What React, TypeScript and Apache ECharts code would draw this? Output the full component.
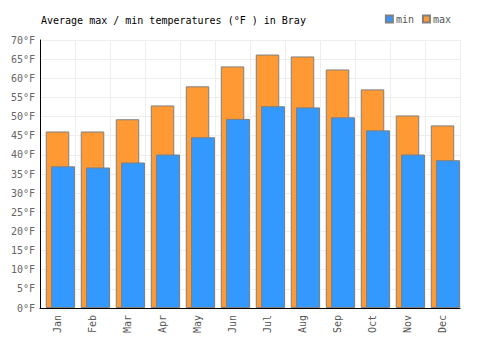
import React, { useEffect, useRef } from "react";
import * as echarts from "echarts";

const months = ["Jan", "Feb", "Mar", "Apr", "May", "Jun", "Jul", "Aug", "Sep", "Oct", "Nov", "Dec"];
const minTemps = [37.0, 36.7, 38.0, 40.1, 44.6, 49.4, 52.7, 52.4, 49.8, 46.4, 40.1, 38.6];
const maxTemps = [46.1, 46.1, 49.3, 52.9, 57.9, 63.1, 66.2, 65.7, 62.3, 57.1, 50.3, 47.7];
const yTicks = { min: 0, max: 70, interval: 5 };

const FONT = "'DejaVu Sans Mono', monospace";

export default function App() {
  const ref = useRef<HTMLDivElement>(null);
  useEffect(() => {
    if (!ref.current) return;
    const chart = echarts.init(ref.current, null, { renderer: "svg" });
    const border = { borderColor: "#808080", borderWidth: 1 };
    chart.setOption({
      animation: false,
      title: {
        text: "Average max / min temperatures (°F ) in Bray",
        left: 36,
        top: 10,
        textStyle: { fontFamily: FONT, fontSize: 10, fontWeight: "normal", color: "#000" },
      },
      legend: {
        data: ["min", "max"],
        right: 44,
        top: 9,
        itemWidth: 7,
        itemHeight: 7,
        itemGap: 8,
        icon: "rect",
        textStyle: { fontFamily: FONT, fontSize: 10, color: "#555", padding: [0, 0, 0, -2] },
      },
      grid: { left: 40, right: 40, top: 40, bottom: 42 },
      xAxis: [
        {
          type: "category",
          data: months,
          axisLine: { lineStyle: { color: "#000" } },
          axisTick: { show: false },
          splitLine: { show: true, lineStyle: { color: "#eeeeee" } },
          axisLabel: { rotate: 90, fontFamily: FONT, fontSize: 10, color: "#555", margin: 7 },
        },
        {
          type: "category",
          data: months,
          show: false,
        },
      ],
      yAxis: {
        type: "value",
        min: yTicks.min,
        max: yTicks.max,
        interval: yTicks.interval,
        axisLine: { show: true, lineStyle: { color: "#000" } },
        axisTick: { show: false },
        splitLine: { show: true, lineStyle: { color: "#eeeeee" } },
        axisLabel: { formatter: "{value}°F", fontFamily: FONT, fontSize: 10, color: "#666", margin: 5 },
      },
      series: [
        {
          name: "max",
          type: "bar",
          xAxisIndex: 0,
          data: maxTemps,
          barWidth: 23.5,
          itemStyle: { color: "#FF9933", ...border },
        },
        {
          name: "spacer",
          type: "bar",
          xAxisIndex: 1,
          data: [],
          barWidth: 24,
          barGap: "-54.17%",
        },
        {
          name: "min",
          type: "bar",
          xAxisIndex: 1,
          data: minTemps,
          barWidth: 24,
          barGap: "-54.17%",
          itemStyle: { color: "#3399FF", ...border },
        },
      ],
    });
    return () => chart.dispose();
  }, []);
  return (
    <div
      ref={ref}
      style={{ position: "absolute", left: 0, top: 0, width: 500, height: 350 }}
    />
  );
}
